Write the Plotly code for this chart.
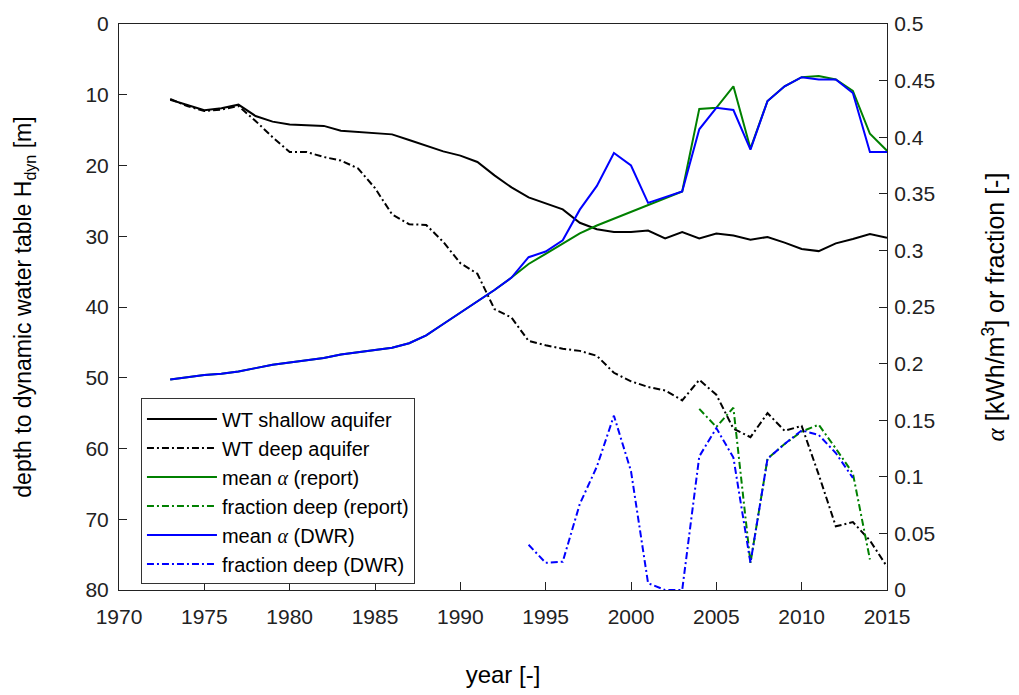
import plotly.graph_objects as go

# ---- data -------------------------------------------------------------
years_wt = list(range(1973, 2016))
wt_shallow = [10.7, 11.5, 12.2, 11.9, 11.4, 13.0, 13.8, 14.2, 14.3, 14.4,
              15.1, 15.3, 15.4, 15.6, 16.4, 17.2, 18.0, 18.6, 19.5, 21.4,
              23.1, 24.5, 25.4, 26.2, 28.1, 29.0, 29.4, 29.4, 29.2, 30.3,
              29.4, 30.3, 29.6, 29.9, 30.5, 30.1, 30.9, 31.8, 32.1, 31.0,
              30.4, 29.7, 30.2]
wt_deep = [10.6, 11.6, 12.3, 12.1, 11.6, 13.7, 16.0, 18.1, 18.1, 18.8,
           19.3, 20.4, 23.2, 26.9, 28.3, 28.4, 30.8, 33.8, 35.3, 40.3,
           41.5, 44.8, 45.4, 45.9, 46.2, 46.9, 49.3, 50.5, 51.3, 51.8,
           53.2, 50.3, 52.4, 57.2, 58.4, 55.0, 57.5, 56.8, 63.7, 71.0,
           70.4, 73.0, 76.7]

alpha_dwr = [0.186, 0.188, 0.190, 0.191, 0.193, 0.196, 0.199, 0.201, 0.203,
             0.205, 0.208, 0.210, 0.212, 0.214, 0.218, 0.225, 0.235, 0.245,
             0.255, 0.265, 0.276, 0.294, 0.299, 0.309, 0.336, 0.357, 0.386,
             0.375, 0.342, 0.347, 0.352, 0.407, 0.426, 0.424, 0.389, 0.432,
             0.445, 0.453, 0.451, 0.451, 0.439, 0.387, 0.387]
alpha_report = [0.186, 0.188, 0.190, 0.191, 0.193, 0.196, 0.199, 0.201, 0.203,
                0.205, 0.208, 0.210, 0.212, 0.214, 0.218, 0.225, 0.235, 0.245,
                0.255, 0.265, 0.276, 0.288, 0.297, 0.306, 0.315, 0.322, 0.328,
                0.334, 0.340, 0.346, 0.352, 0.425, 0.426, 0.445, 0.390, 0.432,
                0.445, 0.453, 0.454, 0.451, 0.441, 0.403, 0.388]

years_frac_dwr = list(range(1994, 2014))
frac_dwr = [0.040, 0.024, 0.025, 0.076, 0.109, 0.154, 0.105, 0.006, 0.0,
            0.0, 0.118, 0.143, 0.117, 0.024, 0.116, 0.129, 0.141, 0.137,
            0.121, 0.099]
years_frac_report = list(range(2004, 2015))
frac_report = [0.160, 0.144, 0.161, 0.024, 0.116, 0.129, 0.140, 0.146,
               0.125, 0.103, 0.027]

# ---- styling ----------------------------------------------------------
FONT = "Liberation Sans, Arial, Helvetica, sans-serif"
ALPHA = '<span style="font-family:Liberation Serif, Times New Roman, serif"><i>α</i></span>'
GREEN = "#008000"
BLUE = "#0000FF"
DASHDOT = "7px,3px,2px,3px"

fig = go.Figure()
fig.add_trace(go.Scatter(x=years_wt, y=wt_shallow, mode="lines",
                         name="WT shallow aquifer",
                         line=dict(color="black", width=2)))
fig.add_trace(go.Scatter(x=years_wt, y=wt_deep, mode="lines",
                         name="WT deep aquifer",
                         line=dict(color="black", width=2, dash=DASHDOT)))
fig.add_trace(go.Scatter(x=years_wt, y=alpha_report, mode="lines",
                         name=f"mean {ALPHA} (report)", yaxis="y2",
                         line=dict(color=GREEN, width=2)))
fig.add_trace(go.Scatter(x=years_frac_report, y=frac_report, mode="lines",
                         name="fraction deep (report)", yaxis="y2",
                         line=dict(color=GREEN, width=2, dash=DASHDOT)))
fig.add_trace(go.Scatter(x=years_wt, y=alpha_dwr, mode="lines",
                         name=f"mean {ALPHA} (DWR)", yaxis="y2",
                         line=dict(color=BLUE, width=2)))
fig.add_trace(go.Scatter(x=years_frac_dwr, y=frac_dwr, mode="lines",
                         name="fraction deep (DWR)", yaxis="y2",
                         line=dict(color=BLUE, width=2, dash=DASHDOT)))

axis_common = dict(showline=True, linecolor="#222222", linewidth=1,
                   ticks="inside", ticklen=8, tickcolor="#222222",
                   showgrid=False, zeroline=False,
                   tickfont=dict(family=FONT, size=21, color="#222222"))
TITLE_FONT = dict(family=FONT, size=23, color="black")

fig.update_layout(
    width=1019, height=695,
    margin=dict(l=119, r=132, t=18, b=101),
    paper_bgcolor="white", plot_bgcolor="white",
    font=dict(family=FONT, size=19, color="black"),
    showlegend=True,
    legend=dict(x=0.0286, y=0.3385, xanchor="left", yanchor="top",
                bgcolor="white", bordercolor="#333333", borderwidth=1,
                font=dict(family=FONT, size=20, color="black"),
                itemwidth=70, tracegroupgap=0),
    xaxis=dict(range=[1970, 2015], dtick=5, tick0=1970, mirror=True,
               ticklabelstandoff=8,
               title=dict(text="year [-]", standoff=38,
                          font=dict(family=FONT, size=24, color="black")),
               **axis_common),
    yaxis=dict(range=[80, 0], dtick=10, tick0=0, ticklabelstandoff=5,
               title=dict(text="depth to dynamic water table H<sub>dyn</sub> [m]",
                          standoff=47, font=TITLE_FONT),
               **axis_common),
    yaxis2=dict(range=[0, 0.5], dtick=0.05, tick0=0, overlaying="y",
                side="right", ticklabelstandoff=2,
                title=dict(text=f"{ALPHA} [kWh/m<sup>3</sup>] or fraction [-]",
                           standoff=52, font=dict(family=FONT, size=25,
                                                  color="black")),
                **axis_common),
)

fig.write_html("out.html")
